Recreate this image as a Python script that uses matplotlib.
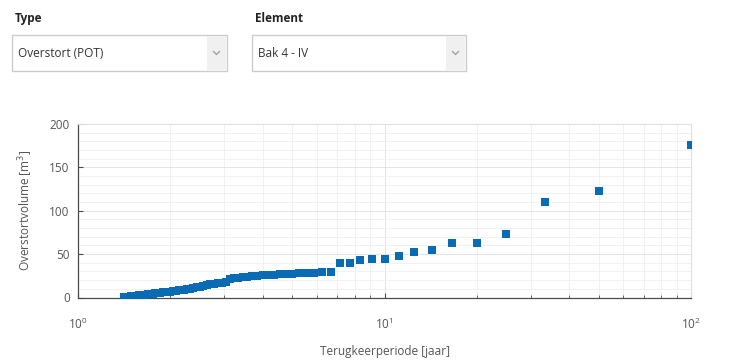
import matplotlib
matplotlib.use("Agg")
import matplotlib.pyplot as plt
from matplotlib.patches import Rectangle
from matplotlib.ticker import FixedLocator, NullFormatter

plt.rcParams["font.family"] = ["Open Sans", "DejaVu Sans"]

# Return periods [jaar] and overflow volumes [m3] (peaks over threshold)
return_period = [
    100.0, 50.0, 33.333, 25.0, 20.0, 16.667, 14.286, 12.5, 11.111, 10.0,
    9.091, 8.333, 7.692, 7.143, 6.667, 6.25, 5.882, 5.556, 5.263, 5.0,
    4.762, 4.545, 4.348, 4.167, 4.0, 3.846, 3.704, 3.571, 3.448, 3.333,
    3.226, 3.125, 3.030, 2.941, 2.857, 2.778, 2.703, 2.632, 2.564, 2.5,
    2.439, 2.381, 2.326, 2.273, 2.222, 2.174, 2.128, 2.083, 2.041, 2.0,
    1.961, 1.923, 1.887, 1.852, 1.818, 1.786, 1.754, 1.724, 1.695, 1.667,
    1.639, 1.613, 1.587, 1.563, 1.538, 1.515, 1.493, 1.471, 1.449, 1.429,
    1.408,
]
overflow_volume = [
    175.7, 122.7, 110.4, 73.2, 63.2, 62.8, 54.7, 52.3, 48.4, 44.3,
    44.2, 43.2, 39.7, 39.7, 29.6, 29.2, 28.8, 28.3, 27.9, 27.5,
    27.1, 26.7, 26.3, 25.9, 25.5, 25.1, 24.7, 24.2, 23.6, 22.9,
    22.1, 20.8, 18.0, 17.1, 16.5, 15.8, 15.0, 14.2, 13.4, 12.6,
    11.8, 11.0, 10.3, 9.7, 9.2, 8.7, 8.2, 7.8, 7.3, 6.9,
    6.5, 6.1, 5.8, 5.4, 5.0, 4.7, 4.3, 4.0, 3.6, 3.3,
    3.0, 2.7, 2.4, 2.1, 1.8, 1.5, 1.2, 0.9, 0.6, 0.4,
    0.1,
]

type_label = "Type"
type_choice = "Overstort (POT)"
element_label = "Element"
element_choice = "Bak 4 - IV"

W, H = 732, 363
fig = plt.figure(figsize=(W / 100, H / 100), dpi=100)
fig.patch.set_facecolor("white")

# --- control panel with two drop-down menus (pixel coordinates) ---
ui = fig.add_axes([0, 0, 1, 1])
ui.set_xlim(0, W)
ui.set_ylim(H, 0)
ui.axis("off")

def dropdown(x0, x1, label, choice):
    ui.text(x0 + 3, 18.5, label, fontsize=8.5, fontweight="bold",
            color="#222222", va="center", ha="left")
    y0, y1 = 35, 71
    ui.add_patch(Rectangle((x0, y0), x1 - x0, y1 - y0, facecolor="white",
                           edgecolor="#cccccc", linewidth=1.0))
    ui.add_patch(Rectangle((x1 - 20, y0 + 1), 19, y1 - y0 - 2,
                           facecolor="#f0f0f0", edgecolor="none"))
    cx, cy = x1 - 10.5, 53
    ui.plot([cx - 3, cx, cx + 3], [cy - 1.5, cy + 1.5, cy - 1.5],
            color="#9a9a9a", linewidth=0.9)
    ui.text(x0 + 6, 53.5, choice, fontsize=8.5, color="#333333",
            va="center", ha="left")

dropdown(12, 227, type_label, type_choice)
dropdown(252, 466, element_label, element_choice)

# --- return period plot ---
ax = fig.add_axes([78 / W, 1 - 297.5 / H, (691 - 78) / W, (297.5 - 124) / H])
ax.set_xscale("log")
ax.set_xlim(1, 100)
ax.set_ylim(0, 200)

ax.plot(return_period, overflow_volume, linestyle="none", marker="s",
        markersize=5.4, color="#0a6bb5", markeredgewidth=0, zorder=3)

ax.set_yticks([0, 50, 100, 150, 200])
ax.yaxis.set_minor_locator(FixedLocator(range(0, 201, 10)))
minor_x = [m * 10 ** d for d in (0, 1) for m in range(2, 10)]
ax.xaxis.set_minor_locator(FixedLocator(minor_x))
ax.xaxis.set_minor_formatter(NullFormatter())
ax.set_xticks([1, 10, 100])

ax.grid(which="major", color="#e4e4e4", linewidth=0.7)
ax.grid(which="minor", color="#efefef", linewidth=0.6)
ax.set_axisbelow(True)

for side in ("left", "bottom"):
    ax.spines[side].set_color("#4a4a4a")
    ax.spines[side].set_linewidth(0.9)
for side in ("top", "right"):
    ax.spines[side].set_color("#e0e0e0")
    ax.spines[side].set_linewidth(0.8)

ax.tick_params(which="both", direction="in", colors="#4a4a4a",
               labelcolor="#555555", labelsize=8.5)
ax.tick_params(which="major", length=3.5, width=0.8)
ax.tick_params(which="minor", length=2, width=0.6)
ax.tick_params(axis="y", which="minor", length=0)
ax.tick_params(axis="x", pad=14)
ax.tick_params(axis="y", pad=6)

ax.set_xlabel("Terugkeerperiode [jaar]", fontsize=8.5, color="#555555",
              labelpad=9)
ax.set_ylabel("Overstortvolume [m$^3$]", fontsize=8.5, color="#555555",
              labelpad=10)

fig.savefig("out.png", dpi=100, facecolor="white")
